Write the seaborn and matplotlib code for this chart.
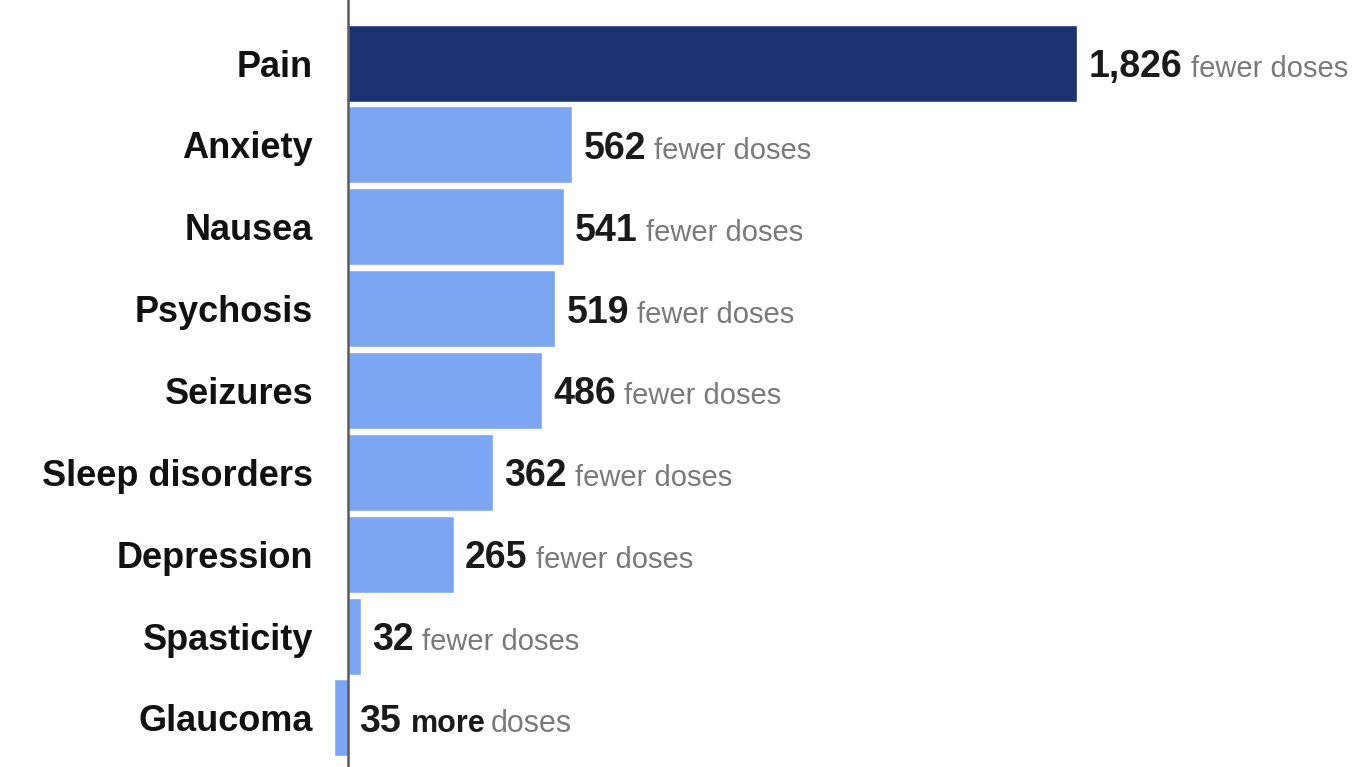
import matplotlib
matplotlib.use("Agg")
import matplotlib.pyplot as plt
import seaborn as sns
import pandas as pd

conditions = ["Pain", "Anxiety", "Nausea", "Psychosis", "Seizures",
              "Sleep disorders", "Depression", "Spasticity", "Glaucoma"]
dose_change = [1826, 562, 541, 519, 486, 362, 265, 32, -35]
directions = ["fewer"] * 8 + ["more"]
bar_colors = ["#1b3272"] + ["#7ca6f3"] * 8

df = pd.DataFrame({"condition": conditions, "change": dose_change})

sns.set_style("white")
plt.rcParams["font.family"] = ["Liberation Sans", "DejaVu Sans"]

fig = plt.figure(figsize=(13.63, 7.67), dpi=100)
ax = fig.add_axes([320 / 1363, 0, 1 - 320 / 1363, 1])

sns.barplot(data=df, x="change", y="condition", hue="condition",
            palette=bar_colors, legend=False, width=0.94, saturation=1,
            errorbar=None, orient="h", ax=ax)

ax.set_xlim(-70, 2541)
ax.set_ylim(8.6, -0.77)
ax.axvline(0, color="#5a5a5a", lw=1.8, zorder=5)

for s in ax.spines.values():
    s.set_visible(False)
ax.set_xticks([])
ax.set_xlabel("")
ax.set_ylabel("")
ax.tick_params(axis="y", length=0, pad=5)
for lbl in ax.get_yticklabels():
    lbl.set_fontsize(26)
    lbl.set_fontweight("bold")
    lbl.set_color("#111111")

dark = "#1a1a1a"
gray = "#7a7a7a"
for i, (v, d) in enumerate(zip(dose_change, directions)):
    yb = i + 0.17
    num = ax.annotate(f"{abs(v):,}", xy=(max(v, 0), yb), xytext=(8, 0),
                      textcoords="offset points", fontsize=27,
                      fontweight="bold", color=dark, va="baseline", ha="left")
    if v < 0:
        word = ax.annotate(d, xy=(1, yb), xycoords=(num, "data"),
                           xytext=(7, 0), textcoords="offset points",
                           fontsize=22, fontweight="bold", color=dark,
                           va="baseline", ha="left")
        ax.annotate("doses", xy=(1, yb), xycoords=(word, "data"),
                    xytext=(4, 0), textcoords="offset points",
                    fontsize=22, color=gray, va="baseline", ha="left")
    else:
        ax.annotate(f"{d} doses", xy=(1, yb), xycoords=(num, "data"),
                    xytext=(6, 0), textcoords="offset points",
                    fontsize=21, color=gray, va="baseline", ha="left")

fig.savefig("out.png", dpi=100, facecolor="white")
